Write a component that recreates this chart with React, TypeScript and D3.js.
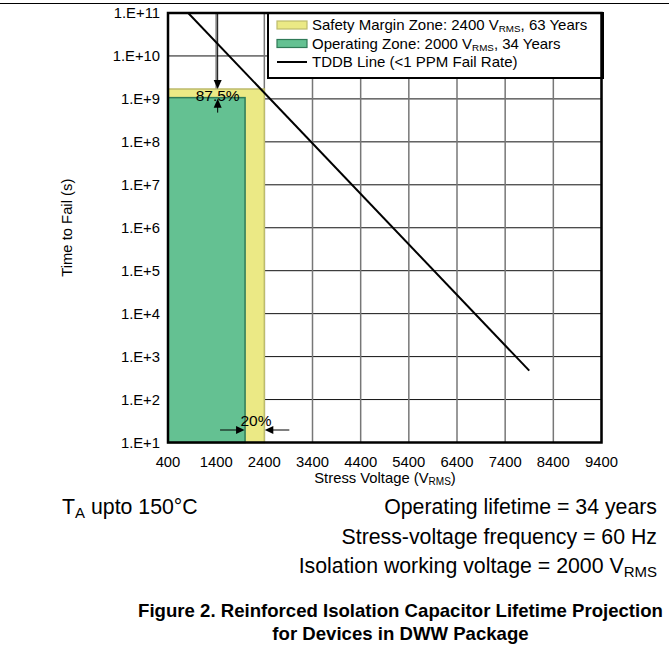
import React from "react"
import * as d3 from "d3"

// axis ticks
const xTicks = [400, 1400, 2400, 3400, 4400, 5400, 6400, 7400, 8400, 9400]
const yTicks = [1e1, 1e2, 1e3, 1e4, 1e5, 1e6, 1e7, 1e8, 1e9, 1e10, 1e11]
const yTickLabels = ["1.E+1", "1.E+2", "1.E+3", "1.E+4", "1.E+5", "1.E+6", "1.E+7", "1.E+8", "1.E+9", "1.E+10", "1.E+11"]

// zones: safety margin, operating
const zoneNames = ["safety", "operating"]
const zoneVoltages = [2400, 2000]
const zoneTimes = [1.7e9, 1.07e9]
const zoneFills = ["#ebe985", "#64c192"]
const zoneStrokes = ["#bdbb6c", "#2f7a57"]

// TDDB line end points
const tddbVoltages = [820, 7900]
const tddbTimes = [1e11, 470]

const FONT = "'Liberation Sans', Arial, sans-serif"

const W = 669
const H = 656
const plot = { left: 168, right: 601.5, top: 13, bottom: 442.5 }
const SMALL = 14.8
const NOTE = 21.3

export default function App() {
  const x = d3.scaleLinear().domain([400, 9400]).range([plot.left, plot.right])
  const y = d3.scaleLog().domain([1e1, 1e11]).range([plot.bottom, plot.top])

  const line = d3
    .line<number>()
    .x((_, i) => x(tddbVoltages[i]))
    .y((_, i) => y(tddbTimes[i]))

  const arrowX = x(1400) + 1.5
  const yTop = y(zoneTimes[0])
  const gTop = y(zoneTimes[1])
  const arrowY = 430
  const gRight = x(zoneVoltages[1])
  const yRight = x(zoneVoltages[0])

  const legend = { x: 268, y: 13, w: 335, h: 65 }
  const legendRows = [
    { kind: "rect", fill: zoneFills[0], stroke: zoneStrokes[0], main: "Safety Margin Zone: 2400 V", tail: ", 63 Years" },
    { kind: "rect", fill: zoneFills[1], stroke: zoneStrokes[1], main: "Operating Zone: 2000 V", tail: ", 34 Years" },
    { kind: "line", fill: "", stroke: "#000", main: "TDDB Line (<1 PPM Fail Rate)", tail: "" },
  ]

  return (
    <svg width={W} height={H} style={{ position: "absolute", left: 0, top: 0, background: "#fff" }} fontFamily={FONT}>
      <defs>
        <clipPath id="plot-clip">
          <rect x={plot.left} y={plot.top} width={plot.right - plot.left} height={plot.bottom - plot.top} />
        </clipPath>
      </defs>
      <line x1={0} x2={W} y1={3.5} y2={3.5} stroke="#000" strokeWidth={1} />

      {/* grid */}
      {yTicks.map((t) => (
        <line key={"h" + t} x1={plot.left} x2={plot.right} y1={y(t)} y2={y(t)} stroke="#111" strokeWidth={1} />
      ))}
      {xTicks.map((t) => (
        <line key={"v" + t} x1={x(t)} x2={x(t)} y1={plot.top} y2={plot.bottom} stroke="#777" strokeWidth={1.5} />
      ))}

      {/* zones */}
      {zoneNames.map((n, i) => (
        <rect
          key={n}
          x={plot.left}
          y={y(zoneTimes[i])}
          width={x(zoneVoltages[i]) - plot.left}
          height={plot.bottom - y(zoneTimes[i])}
          fill={zoneFills[i]}
          stroke={zoneStrokes[i]}
          strokeWidth={1.5}
        />
      ))}

      {/* TDDB */}
      <path d={line(tddbVoltages) || ""} fill="none" stroke="#000" strokeWidth={2} clipPath="url(#plot-clip)" />

      {/* 87.5% arrows */}
      <line x1={arrowX} x2={arrowX} y1={plot.top} y2={yTop - 6} stroke="#000" strokeWidth={1} />
      <path d={`M${arrowX - 4},${yTop - 9}L${arrowX + 4},${yTop - 9}L${arrowX},${yTop}Z`} fill="#000" />
      <line x1={arrowX} x2={arrowX} y1={gTop + 6} y2={gTop + 15} stroke="#000" strokeWidth={1} />
      <path d={`M${arrowX - 4},${gTop + 10}L${arrowX + 4},${gTop + 10}L${arrowX},${gTop + 1}Z`} fill="#000" />
      <text x={arrowX} y={100.5} textAnchor="middle" fontSize={15.5}>87.5%</text>

      {/* 20% arrows */}
      <line x1={gRight - 25} x2={gRight - 6} y1={arrowY} y2={arrowY} stroke="#000" strokeWidth={1} />
      <path d={`M${gRight - 9},${arrowY - 4}L${gRight - 9},${arrowY + 4}L${gRight - 0.5},${arrowY}Z`} fill="#000" />
      <line x1={yRight + 25} x2={yRight + 6} y1={arrowY} y2={arrowY} stroke="#000" strokeWidth={1} />
      <path d={`M${yRight + 9},${arrowY - 4}L${yRight + 9},${arrowY + 4}L${yRight + 0.5},${arrowY}Z`} fill="#000" />
      <text x={256} y={425.5} textAnchor="middle" fontSize={15.5}>20%</text>

      {/* legend */}
      <rect x={legend.x} y={legend.y} width={legend.w} height={legend.h} fill="#fff" stroke="#000" strokeWidth={2} />
      {legendRows.map((r, i) => {
        const cy = 25 + i * 18.5
        return (
          <g key={i}>
            {r.kind === "rect" ? (
              <rect x={277} y={cy - 4} width={30} height={8} fill={r.fill} stroke={r.stroke} strokeWidth={1.2} />
            ) : (
              <line x1={277} x2={307} y1={cy} y2={cy} stroke="#000" strokeWidth={2} />
            )}
            <text x={312} y={cy + 5} fontSize={15}>
              {r.main}
              {r.tail && (
                <>
                  <tspan fontSize={9.8} dy={2}>RMS</tspan>
                  <tspan dy={-2}>{r.tail}</tspan>
                </>
              )}
            </text>
          </g>
        )
      })}

      {/* plot border */}
      <rect
        x={plot.left}
        y={plot.top}
        width={plot.right - plot.left}
        height={plot.bottom - plot.top}
        fill="none"
        stroke="#000"
        strokeWidth={2.5}
      />

      {/* axes labels */}
      {yTicks.map((t, i) => (
        <text key={"yl" + t} x={160} y={y(t) + 5} textAnchor="end" fontSize={SMALL}>
          {yTickLabels[i]}
        </text>
      ))}
      {xTicks.map((t) => (
        <text key={"xl" + t} x={x(t)} y={467} textAnchor="middle" fontSize={SMALL}>
          {t}
        </text>
      ))}
      <text x={385} y={483} textAnchor="middle" fontSize={SMALL}>
        Stress Voltage (V<tspan fontSize={10} dy={2}>RMS</tspan>
        <tspan dy={-2}>)</tspan>
      </text>
      <text transform={`translate(72,${(plot.top + plot.bottom) / 2}) rotate(-90)`} textAnchor="middle" fontSize={SMALL}>
        Time to Fail (s)
      </text>

      {/* notes */}
      <text x={62} y={514} fontSize={NOTE}>
        T<tspan fontSize={15} dy={4}>A</tspan>
        <tspan dy={-4}> upto 150°C</tspan>
      </text>
      <text x={657} y={514} textAnchor="end" fontSize={NOTE}>Operating lifetime = 34 years</text>
      <text x={657} y={544} textAnchor="end" fontSize={NOTE}>Stress-voltage frequency = 60 Hz</text>
      <text x={657} y={573} textAnchor="end" fontSize={NOTE}>
        Isolation working voltage = 2000 V<tspan fontSize={15} dy={4}>RMS</tspan>
      </text>

      {/* caption */}
      <text x={400.5} y={617} textAnchor="middle" fontSize={18.6} fontWeight="bold">
        Figure 2. Reinforced Isolation Capacitor Lifetime Projection
      </text>
      <text x={400.5} y={640} textAnchor="middle" fontSize={18.6} fontWeight="bold">
        for Devices in DWW Package
      </text>
    </svg>
  )
}
